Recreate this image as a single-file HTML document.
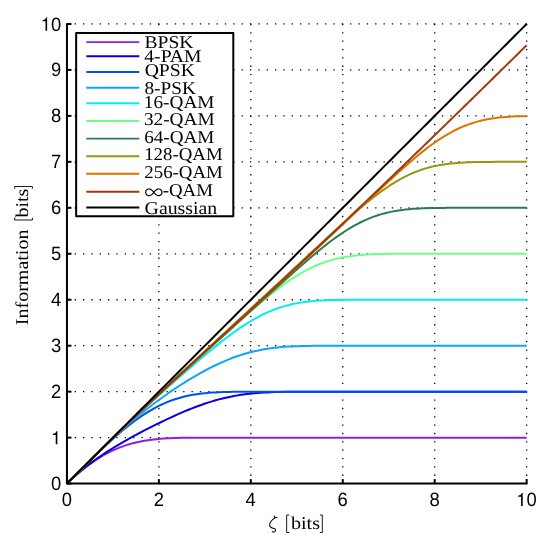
<!DOCTYPE html>
<html><head><meta charset="utf-8"><title>Information vs zeta</title>
<style>html,body{margin:0;padding:0;background:#fff;}svg{display:block;will-change:transform;}</style>
</head><body>
<svg width="545" height="543" viewBox="0 0 545 543">
<rect x="0" y="0" width="545" height="543" fill="#fff"/>
<g stroke="#000" stroke-width="1.3" stroke-dasharray="1.3 7.047" fill="none"><line x1="158.89" y1="484.25" x2="158.89" y2="23.30"/><line x1="250.83" y1="484.25" x2="250.83" y2="23.30"/><line x1="342.77" y1="484.25" x2="342.77" y2="23.30"/><line x1="434.71" y1="484.25" x2="434.71" y2="23.30"/><line x1="526.65" y1="484.25" x2="526.65" y2="23.30"/><line x1="66.30" y1="437.63" x2="177.54" y2="437.63"/><line x1="66.30" y1="391.67" x2="225.93" y2="391.67"/><line x1="66.30" y1="345.71" x2="301.98" y2="345.71"/><line x1="66.30" y1="299.74" x2="333.08" y2="299.74"/><line x1="66.30" y1="253.78" x2="378.02" y2="253.78"/><line x1="66.30" y1="207.81" x2="426.41" y2="207.81"/><line x1="66.30" y1="161.85" x2="471.35" y2="161.85"/><line x1="66.30" y1="115.88" x2="519.74" y2="115.88"/><line x1="66.30" y1="69.91" x2="527.30" y2="69.91"/><line x1="66.30" y1="23.95" x2="527.30" y2="23.95"/></g>
<polyline points="66.95,483.60 66.97,483.58 68.50,482.07 70.02,480.60 71.55,479.15 73.85,477.04 77.30,473.98 80.76,471.06 84.22,468.28 87.67,465.64 91.13,463.13 94.58,460.77 98.04,458.53 101.50,456.43 104.95,454.47 108.41,452.63 111.87,450.93 115.32,449.36 118.78,447.91 122.24,446.59 125.69,445.39 129.15,444.31 132.61,443.34 136.06,442.47 139.52,441.70 142.98,441.03 146.43,440.44 149.89,439.94 153.35,439.50 156.80,439.14 160.26,438.83 163.72,438.57 167.17,438.36 170.63,438.20 174.08,438.06 177.54,437.95 181.00,437.87 184.45,437.80 187.91,437.76 191.37,437.72 194.82,437.69 198.28,437.67 201.74,437.66 205.19,437.65 208.65,437.65 212.11,437.64 215.56,437.64 219.02,437.64 222.48,437.64 225.93,437.64 229.39,437.64 232.85,437.64 236.30,437.64 239.76,437.64 243.22,437.64 246.67,437.64 250.13,437.64 253.58,437.64 257.04,437.64 260.50,437.64 263.95,437.64 267.41,437.64 270.87,437.64 274.32,437.64 277.78,437.64 281.24,437.64 284.69,437.64 288.15,437.64 291.61,437.64 295.06,437.64 298.52,437.64 301.98,437.64 305.43,437.64 308.89,437.63 312.35,437.63 315.80,437.63 319.26,437.63 322.72,437.63 326.17,437.63 329.63,437.63 333.08,437.63 336.54,437.63 340.00,437.63 343.45,437.63 346.91,437.63 350.37,437.63 353.82,437.63 357.28,437.63 360.74,437.63 364.19,437.63 367.65,437.63 371.11,437.63 374.56,437.63 378.02,437.63 381.48,437.63 384.93,437.63 388.39,437.63 391.85,437.63 395.30,437.63 398.76,437.63 402.22,437.63 405.67,437.63 409.13,437.63 412.58,437.63 416.04,437.63 419.50,437.63 422.95,437.63 426.41,437.63 429.87,437.63 433.32,437.63 436.78,437.63 440.24,437.63 443.69,437.63 447.15,437.63 450.61,437.63 454.06,437.63 457.52,437.63 460.98,437.63 464.43,437.63 467.89,437.63 471.35,437.63 474.80,437.63 478.26,437.63 481.72,437.63 485.17,437.63 488.63,437.63 492.08,437.63 495.54,437.63 499.00,437.63 502.45,437.63 505.91,437.63 509.37,437.63 512.82,437.63 516.28,437.63 519.74,437.63 523.19,437.63 526.65,437.63" fill="none" stroke="#8a1fe6" stroke-width="2.0" stroke-linejoin="round"/>
<polyline points="66.95,483.60 66.97,483.58 68.50,482.07 70.02,480.60 71.55,479.15 73.85,477.03 77.30,473.96 80.76,471.02 84.22,468.19 87.67,465.47 91.13,462.85 94.58,460.32 98.04,457.87 101.50,455.50 104.95,453.20 108.41,450.96 111.87,448.79 115.32,446.66 118.78,444.59 122.24,442.57 125.69,440.58 129.15,438.63 132.61,436.72 136.06,434.85 139.52,433.00 142.98,431.18 146.43,429.39 149.89,427.62 153.35,425.88 156.80,424.17 160.26,422.48 163.72,420.81 167.17,419.17 170.63,417.56 174.08,415.98 177.54,414.43 181.00,412.92 184.45,411.44 187.91,410.00 191.37,408.61 194.82,407.26 198.28,405.97 201.74,404.72 205.19,403.54 208.65,402.41 212.11,401.34 215.56,400.33 219.02,399.39 222.48,398.51 225.93,397.69 229.39,396.94 232.85,396.25 236.30,395.63 239.76,395.06 243.22,394.56 246.67,394.11 250.13,393.71 253.58,393.36 257.04,393.06 260.50,392.80 263.95,392.58 267.41,392.40 270.87,392.24 274.32,392.12 277.78,392.01 281.24,391.93 284.69,391.86 288.15,391.81 291.61,391.77 295.06,391.74 298.52,391.72 301.98,391.71 305.43,391.69 308.89,391.69 312.35,391.68 315.80,391.68 319.26,391.67 322.72,391.67 326.17,391.67 329.63,391.67 333.08,391.67 336.54,391.67 340.00,391.67 343.45,391.67 346.91,391.67 350.37,391.67 353.82,391.67 357.28,391.67 360.74,391.67 364.19,391.67 367.65,391.67 371.11,391.67 374.56,391.67 378.02,391.67 381.48,391.67 384.93,391.67 388.39,391.67 391.85,391.67 395.30,391.67 398.76,391.67 402.22,391.67 405.67,391.67 409.13,391.67 412.58,391.67 416.04,391.67 419.50,391.67 422.95,391.67 426.41,391.67 429.87,391.67 433.32,391.67 436.78,391.67 440.24,391.67 443.69,391.67 447.15,391.67 450.61,391.67 454.06,391.67 457.52,391.67 460.98,391.67 464.43,391.67 467.89,391.67 471.35,391.67 474.80,391.67 478.26,391.67 481.72,391.67 485.17,391.67 488.63,391.67 492.08,391.67 495.54,391.67 499.00,391.67 502.45,391.67 505.91,391.67 509.37,391.67 512.82,391.67 516.28,391.67 519.74,391.67 523.19,391.67 526.65,391.67" fill="none" stroke="#0a00e6" stroke-width="2.0" stroke-linejoin="round"/>
<polyline points="66.95,483.60 66.97,483.58 68.50,482.05 70.02,480.53 71.55,479.00 73.85,476.71 77.30,473.25 80.76,469.81 84.22,466.37 87.67,462.95 91.13,459.55 94.58,456.17 98.04,452.83 101.50,449.52 104.95,446.25 108.41,443.04 111.87,439.88 115.32,436.78 118.78,433.76 122.24,430.81 125.69,427.95 129.15,425.18 132.61,422.51 136.06,419.94 139.52,417.48 142.98,415.13 146.43,412.90 149.89,410.79 153.35,408.81 156.80,406.95 160.26,405.22 163.72,403.61 167.17,402.13 170.63,400.78 174.08,399.55 177.54,398.44 181.00,397.44 184.45,396.55 187.91,395.76 191.37,395.07 194.82,394.47 198.28,393.96 201.74,393.52 205.19,393.15 208.65,392.84 212.11,392.58 215.56,392.38 219.02,392.21 222.48,392.07 225.93,391.97 229.39,391.89 232.85,391.83 236.30,391.78 239.76,391.75 243.22,391.72 246.67,391.71 250.13,391.69 253.58,391.68 257.04,391.68 260.50,391.68 263.95,391.67 267.41,391.67 270.87,391.67 274.32,391.67 277.78,391.67 281.24,391.67 284.69,391.67 288.15,391.67 291.61,391.67 295.06,391.67 298.52,391.67 301.98,391.67 305.43,391.67 308.89,391.67 312.35,391.67 315.80,391.67 319.26,391.67 322.72,391.67 326.17,391.67 329.63,391.67 333.08,391.67 336.54,391.67 340.00,391.67 343.45,391.67 346.91,391.67 350.37,391.67 353.82,391.67 357.28,391.67 360.74,391.67 364.19,391.67 367.65,391.67 371.11,391.67 374.56,391.67 378.02,391.67 381.48,391.67 384.93,391.67 388.39,391.67 391.85,391.67 395.30,391.67 398.76,391.67 402.22,391.67 405.67,391.67 409.13,391.67 412.58,391.67 416.04,391.67 419.50,391.67 422.95,391.67 426.41,391.67 429.87,391.67 433.32,391.67 436.78,391.67 440.24,391.67 443.69,391.67 447.15,391.67 450.61,391.67 454.06,391.67 457.52,391.67 460.98,391.67 464.43,391.67 467.89,391.67 471.35,391.67 474.80,391.67 478.26,391.67 481.72,391.67 485.17,391.67 488.63,391.67 492.08,391.67 495.54,391.67 499.00,391.67 502.45,391.67 505.91,391.67 509.37,391.67 512.82,391.67 516.28,391.67 519.74,391.67 523.19,391.67 526.65,391.67" fill="none" stroke="#0050f0" stroke-width="2.0" stroke-linejoin="round"/>
<polyline points="66.95,483.60 66.97,483.58 68.50,482.05 70.02,480.53 71.55,479.00 73.85,476.71 77.30,473.25 80.76,469.80 84.22,466.36 87.67,462.93 91.13,459.51 94.58,456.11 98.04,452.73 101.50,449.38 104.95,446.05 108.41,442.76 111.87,439.50 115.32,436.28 118.78,433.10 122.24,429.96 125.69,426.88 129.15,423.84 132.61,420.85 136.06,417.92 139.52,415.04 142.98,412.22 146.43,409.45 149.89,406.74 153.35,404.08 156.80,401.48 160.26,398.93 163.72,396.44 167.17,394.00 170.63,391.61 174.08,389.27 177.54,386.98 181.00,384.74 184.45,382.55 187.91,380.41 191.37,378.33 194.82,376.29 198.28,374.30 201.74,372.37 205.19,370.50 208.65,368.68 212.11,366.92 215.56,365.23 219.02,363.60 222.48,362.04 225.93,360.55 229.39,359.14 232.85,357.80 236.30,356.54 239.76,355.36 243.22,354.26 246.67,353.24 250.13,352.30 253.58,351.44 257.04,350.66 260.50,349.95 263.95,349.32 267.41,348.76 270.87,348.26 274.32,347.82 277.78,347.45 281.24,347.12 284.69,346.85 288.15,346.61 291.61,346.42 295.06,346.26 298.52,346.13 301.98,346.03 305.43,345.95 308.89,345.88 312.35,345.83 315.80,345.80 319.26,345.77 322.72,345.75 326.17,345.74 329.63,345.73 333.08,345.72 336.54,345.71 340.00,345.71 343.45,345.71 346.91,345.71 350.37,345.71 353.82,345.71 357.28,345.71 360.74,345.71 364.19,345.71 367.65,345.71 371.11,345.71 374.56,345.71 378.02,345.71 381.48,345.71 384.93,345.71 388.39,345.71 391.85,345.71 395.30,345.71 398.76,345.71 402.22,345.71 405.67,345.71 409.13,345.71 412.58,345.71 416.04,345.71 419.50,345.71 422.95,345.71 426.41,345.71 429.87,345.71 433.32,345.71 436.78,345.71 440.24,345.71 443.69,345.71 447.15,345.71 450.61,345.71 454.06,345.71 457.52,345.71 460.98,345.71 464.43,345.71 467.89,345.71 471.35,345.71 474.80,345.71 478.26,345.71 481.72,345.71 485.17,345.71 488.63,345.71 492.08,345.71 495.54,345.71 499.00,345.71 502.45,345.71 505.91,345.71 509.37,345.71 512.82,345.71 516.28,345.71 519.74,345.71 523.19,345.71 526.65,345.71" fill="none" stroke="#0ca4ff" stroke-width="2.0" stroke-linejoin="round"/>
<polyline points="66.95,483.60 66.97,483.58 68.50,482.05 70.02,480.53 71.55,479.00 73.85,476.71 77.30,473.25 80.76,469.80 84.22,466.35 87.67,462.91 91.13,459.48 94.58,456.05 98.04,452.64 101.50,449.24 104.95,445.85 108.41,442.48 111.87,439.12 115.32,435.79 118.78,432.47 122.24,429.17 125.69,425.88 129.15,422.62 132.61,419.37 136.06,416.15 139.52,412.94 142.98,409.75 146.43,406.58 149.89,403.42 153.35,400.28 156.80,397.15 160.26,394.04 163.72,390.95 167.17,387.86 170.63,384.79 174.08,381.74 177.54,378.70 181.00,375.67 184.45,372.65 187.91,369.65 191.37,366.67 194.82,363.70 198.28,360.75 201.74,357.82 205.19,354.91 208.65,352.03 212.11,349.19 215.56,346.37 219.02,343.60 222.48,340.88 225.93,338.21 229.39,335.59 232.85,333.04 236.30,330.57 239.76,328.16 243.22,325.85 246.67,323.62 250.13,321.49 253.58,319.46 257.04,317.53 260.50,315.71 263.95,314.00 267.41,312.40 270.87,310.92 274.32,309.54 277.78,308.29 281.24,307.14 284.69,306.10 288.15,305.17 291.61,304.33 295.06,303.59 298.52,302.95 301.98,302.38 305.43,301.90 308.89,301.49 312.35,301.14 315.80,300.84 319.26,300.60 322.72,300.41 326.17,300.25 329.63,300.12 333.08,300.02 336.54,299.95 340.00,299.89 343.45,299.84 346.91,299.81 350.37,299.79 353.82,299.77 357.28,299.76 360.74,299.75 364.19,299.75 367.65,299.75 371.11,299.74 374.56,299.74 378.02,299.74 381.48,299.74 384.93,299.74 388.39,299.74 391.85,299.74 395.30,299.74 398.76,299.74 402.22,299.74 405.67,299.74 409.13,299.74 412.58,299.74 416.04,299.74 419.50,299.74 422.95,299.74 426.41,299.74 429.87,299.74 433.32,299.74 436.78,299.74 440.24,299.74 443.69,299.74 447.15,299.74 450.61,299.74 454.06,299.74 457.52,299.74 460.98,299.74 464.43,299.74 467.89,299.74 471.35,299.74 474.80,299.74 478.26,299.74 481.72,299.74 485.17,299.74 488.63,299.74 492.08,299.74 495.54,299.74 499.00,299.74 502.45,299.74 505.91,299.74 509.37,299.74 512.82,299.74 516.28,299.74 519.74,299.74 523.19,299.74 526.65,299.74" fill="none" stroke="#00f0f0" stroke-width="2.0" stroke-linejoin="round"/>
<polyline points="66.95,483.60 66.97,483.58 68.50,482.05 70.02,480.53 71.55,479.00 73.85,476.71 77.30,473.25 80.76,469.80 84.22,466.35 87.67,462.90 91.13,459.47 94.58,456.03 98.04,452.61 101.50,449.20 104.95,445.79 108.41,442.40 111.87,439.02 115.32,435.65 118.78,432.29 122.24,428.95 125.69,425.62 129.15,422.30 132.61,419.00 136.06,415.70 139.52,412.42 142.98,409.15 146.43,405.90 149.89,402.65 153.35,399.41 156.80,396.18 160.26,392.97 163.72,389.76 167.17,386.55 170.63,383.36 174.08,380.17 177.54,376.99 181.00,373.81 184.45,370.65 187.91,367.48 191.37,364.32 194.82,361.17 198.28,358.02 201.74,354.88 205.19,351.74 208.65,348.60 212.11,345.48 215.56,342.35 219.02,339.23 222.48,336.12 225.93,333.01 229.39,329.92 232.85,326.83 236.30,323.75 239.76,320.68 243.22,317.63 246.67,314.60 250.13,311.59 253.58,308.60 257.04,305.64 260.50,302.72 263.95,299.84 267.41,297.01 270.87,294.23 274.32,291.51 277.78,288.85 281.24,286.27 284.69,283.76 288.15,281.34 291.61,279.01 295.06,276.78 298.52,274.66 301.98,272.64 305.43,270.73 308.89,268.94 312.35,267.27 315.80,265.71 319.26,264.27 322.72,262.94 326.17,261.72 329.63,260.61 333.08,259.61 336.54,258.72 340.00,257.93 343.45,257.25 346.91,256.65 350.37,256.14 353.82,255.70 357.28,255.32 360.74,255.00 364.19,254.73 367.65,254.51 371.11,254.33 374.56,254.20 378.02,254.09 381.48,254.01 384.93,253.95 388.39,253.90 391.85,253.86 395.30,253.83 398.76,253.81 402.22,253.80 405.67,253.79 409.13,253.79 412.58,253.78 416.04,253.78 419.50,253.78 422.95,253.78 426.41,253.78 429.87,253.78 433.32,253.78 436.78,253.78 440.24,253.78 443.69,253.78 447.15,253.78 450.61,253.78 454.06,253.78 457.52,253.78 460.98,253.78 464.43,253.78 467.89,253.78 471.35,253.78 474.80,253.78 478.26,253.78 481.72,253.78 485.17,253.78 488.63,253.78 492.08,253.78 495.54,253.78 499.00,253.78 502.45,253.78 505.91,253.78 509.37,253.78 512.82,253.78 516.28,253.78 519.74,253.78 523.19,253.78 526.65,253.78" fill="none" stroke="#6eff87" stroke-width="2.0" stroke-linejoin="round"/>
<polyline points="66.95,483.60 66.97,483.58 68.50,482.05 70.02,480.53 71.55,479.00 73.85,476.71 77.30,473.25 80.76,469.80 84.22,466.35 87.67,462.91 91.13,459.47 94.58,456.04 98.04,452.62 101.50,449.20 104.95,445.80 108.41,442.41 111.87,439.04 115.32,435.68 118.78,432.33 122.24,428.99 125.69,425.67 129.15,422.37 132.61,419.07 136.06,415.80 139.52,412.53 142.98,409.28 146.43,406.04 149.89,402.81 153.35,399.59 156.80,396.38 160.26,393.18 163.72,389.99 167.17,386.81 170.63,383.63 174.08,380.47 177.54,377.30 181.00,374.15 184.45,371.00 187.91,367.85 191.37,364.71 194.82,361.57 198.28,358.43 201.74,355.30 205.19,352.16 208.65,349.03 212.11,345.91 215.56,342.78 219.02,339.65 222.48,336.53 225.93,333.40 229.39,330.28 232.85,327.15 236.30,324.03 239.76,320.91 243.22,317.78 246.67,314.66 250.13,311.54 253.58,308.41 257.04,305.29 260.50,302.17 263.95,299.04 267.41,295.92 270.87,292.80 274.32,289.68 277.78,286.57 281.24,283.45 284.69,280.35 288.15,277.25 291.61,274.16 295.06,271.09 298.52,268.03 301.98,264.99 305.43,261.98 308.89,259.00 312.35,256.05 315.80,253.14 319.26,250.29 322.72,247.49 326.17,244.75 329.63,242.08 333.08,239.49 336.54,236.98 340.00,234.56 343.45,232.24 346.91,230.02 350.37,227.91 353.82,225.91 357.28,224.02 360.74,222.25 364.19,220.60 367.65,219.08 371.11,217.67 374.56,216.38 378.02,215.21 381.48,214.15 384.93,213.20 388.39,212.36 391.85,211.61 395.30,210.96 398.76,210.40 402.22,209.91 405.67,209.50 409.13,209.16 412.58,208.87 416.04,208.63 419.50,208.44 422.95,208.29 426.41,208.17 429.87,208.07 433.32,208.00 436.78,207.95 440.24,207.90 443.69,207.88 447.15,207.85 450.61,207.84 454.06,207.83 457.52,207.82 460.98,207.82 464.43,207.81 467.89,207.81 471.35,207.81 474.80,207.81 478.26,207.81 481.72,207.81 485.17,207.81 488.63,207.81 492.08,207.81 495.54,207.81 499.00,207.81 502.45,207.81 505.91,207.81 509.37,207.81 512.82,207.81 516.28,207.81 519.74,207.81 523.19,207.81 526.65,207.81" fill="none" stroke="#2a7a52" stroke-width="2.0" stroke-linejoin="round"/>
<polyline points="66.95,483.60 66.97,483.58 68.50,482.05 70.02,480.53 71.55,479.00 73.85,476.71 77.30,473.25 80.76,469.80 84.22,466.35 87.67,462.90 91.13,459.46 94.58,456.03 98.04,452.60 101.50,449.18 104.95,445.77 108.41,442.37 111.87,438.98 115.32,435.60 118.78,432.24 122.24,428.88 125.69,425.54 129.15,422.20 132.61,418.88 136.06,415.57 139.52,412.27 142.98,408.97 146.43,405.69 149.89,402.42 153.35,399.15 156.80,395.89 160.26,392.64 163.72,389.40 167.17,386.16 170.63,382.93 174.08,379.70 177.54,376.48 181.00,373.26 184.45,370.04 187.91,366.83 191.37,363.62 194.82,360.41 198.28,357.21 201.74,354.00 205.19,350.80 208.65,347.60 212.11,344.40 215.56,341.20 219.02,338.00 222.48,334.81 225.93,331.61 229.39,328.41 232.85,325.21 236.30,322.02 239.76,318.82 243.22,315.62 246.67,312.42 250.13,309.22 253.58,306.03 257.04,302.83 260.50,299.63 263.95,296.43 267.41,293.23 270.87,290.02 274.32,286.82 277.78,283.62 281.24,280.42 284.69,277.21 288.15,274.01 291.61,270.81 295.06,267.60 298.52,264.40 301.98,261.20 305.43,257.99 308.89,254.79 312.35,251.59 315.80,248.39 319.26,245.19 322.72,242.00 326.17,238.81 329.63,235.62 333.08,232.45 336.54,229.28 340.00,226.13 343.45,223.00 346.91,219.89 350.37,216.81 353.82,213.76 357.28,210.74 360.74,207.78 364.19,204.86 367.65,202.00 371.11,199.21 374.56,196.48 378.02,193.84 381.48,191.28 384.93,188.82 388.39,186.46 391.85,184.20 395.30,182.06 398.76,180.03 402.22,178.13 405.67,176.34 409.13,174.68 412.58,173.14 416.04,171.72 419.50,170.41 422.95,169.22 426.41,168.15 429.87,167.19 433.32,166.35 436.78,165.61 440.24,164.97 443.69,164.42 447.15,163.94 450.61,163.53 454.06,163.17 457.52,162.88 460.98,162.64 464.43,162.45 467.89,162.31 471.35,162.19 474.80,162.11 478.26,162.03 481.72,161.98 485.17,161.93 488.63,161.91 492.08,161.89 495.54,161.87 499.00,161.86 502.45,161.86 505.91,161.85 509.37,161.85 512.82,161.85 516.28,161.85 519.74,161.85 523.19,161.85 526.65,161.85" fill="none" stroke="#96960f" stroke-width="2.0" stroke-linejoin="round"/>
<polyline points="66.95,483.60 66.97,483.58 68.50,482.05 70.02,480.53 71.55,479.00 73.85,476.71 77.30,473.25 80.76,469.80 84.22,466.35 87.67,462.90 91.13,459.47 94.58,456.03 98.04,452.61 101.50,449.20 104.95,445.79 108.41,442.40 111.87,439.02 115.32,435.65 118.78,432.30 122.24,428.96 125.69,425.63 129.15,422.31 132.61,419.01 136.06,415.72 139.52,412.44 142.98,409.18 146.43,405.92 149.89,402.68 153.35,399.45 156.80,396.22 160.26,393.01 163.72,389.80 167.17,386.60 170.63,383.40 174.08,380.21 177.54,377.03 181.00,373.85 184.45,370.67 187.91,367.50 191.37,364.33 194.82,361.16 198.28,358.00 201.74,354.84 205.19,351.67 208.65,348.51 212.11,345.35 215.56,342.19 219.02,339.03 222.48,335.87 225.93,332.70 229.39,329.54 232.85,326.37 236.30,323.21 239.76,320.04 243.22,316.87 246.67,313.70 250.13,310.52 253.58,307.34 257.04,304.17 260.50,300.98 263.95,297.80 267.41,294.61 270.87,291.42 274.32,288.23 277.78,285.04 281.24,281.84 284.69,278.64 288.15,275.44 291.61,272.23 295.06,269.02 298.52,265.81 301.98,262.59 305.43,259.38 308.89,256.15 312.35,252.93 315.80,249.71 319.26,246.48 322.72,243.24 326.17,240.01 329.63,236.77 333.08,233.54 336.54,230.29 340.00,227.05 343.45,223.80 346.91,220.56 350.37,217.31 353.82,214.06 357.28,210.80 360.74,207.55 364.19,204.30 367.65,201.05 371.11,197.80 374.56,194.55 378.02,191.31 381.48,188.07 384.93,184.85 388.39,181.64 391.85,178.44 395.30,175.27 398.76,172.12 402.22,169.01 405.67,165.93 409.13,162.90 412.58,159.92 416.04,156.99 419.50,154.14 422.95,151.35 426.41,148.65 429.87,146.04 433.32,143.52 436.78,141.11 440.24,138.80 443.69,136.60 447.15,134.52 450.61,132.57 454.06,130.73 457.52,129.02 460.98,127.44 464.43,125.99 467.89,124.65 471.35,123.45 474.80,122.35 478.26,121.38 481.72,120.51 485.17,119.75 488.63,119.08 492.08,118.50 495.54,118.01 499.00,117.59 502.45,117.24 505.91,116.95 509.37,116.71 512.82,116.51 516.28,116.36 519.74,116.24 523.19,116.14 526.65,116.07" fill="none" stroke="#dc7400" stroke-width="2.0" stroke-linejoin="round"/>
<polyline points="66.95,483.60 66.97,483.58 68.50,482.05 70.02,480.53 71.55,479.00 73.85,476.71 77.30,473.25 80.76,469.80 84.22,466.35 87.67,462.90 91.13,459.46 94.58,456.03 98.04,452.61 101.50,449.19 104.95,445.79 108.41,442.40 111.87,439.01 115.32,435.65 118.78,432.29 122.24,428.94 125.69,425.61 129.15,422.30 132.61,418.99 136.06,415.70 139.52,412.42 142.98,409.15 146.43,405.89 149.89,402.64 153.35,399.40 156.80,396.17 160.26,392.95 163.72,389.74 167.17,386.53 170.63,383.33 174.08,380.13 177.54,376.94 181.00,373.75 184.45,370.57 187.91,367.39 191.37,364.21 194.82,361.04 198.28,357.86 201.74,354.69 205.19,351.52 208.65,348.35 212.11,345.18 215.56,342.01 219.02,338.83 222.48,335.66 225.93,332.49 229.39,329.31 232.85,326.13 236.30,322.96 239.76,319.77 243.22,316.59 246.67,313.41 250.13,310.22 253.58,307.03 257.04,303.83 260.50,300.64 263.95,297.44 267.41,294.23 270.87,291.03 274.32,287.82 277.78,284.60 281.24,281.39 284.69,278.17 288.15,274.95 291.61,271.72 295.06,268.49 298.52,265.26 301.98,262.02 305.43,258.78 308.89,255.53 312.35,252.29 315.80,249.04 319.26,245.78 322.72,242.52 326.17,239.26 329.63,235.99 333.08,232.73 336.54,229.45 340.00,226.18 343.45,222.90 346.91,219.62 350.37,216.33 353.82,213.04 357.28,209.75 360.74,206.45 364.19,203.15 367.65,199.85 371.11,196.54 374.56,193.24 378.02,189.92 381.48,186.61 384.93,183.29 388.39,179.97 391.85,176.65 395.30,173.32 398.76,169.99 402.22,166.66 405.67,163.33 409.13,159.99 412.58,156.65 416.04,153.31 419.50,149.96 422.95,146.62 426.41,143.27 429.87,139.92 433.32,136.56 436.78,133.20 440.24,129.85 443.69,126.48 447.15,123.12 450.61,119.76 454.06,116.39 457.52,113.02 460.98,109.65 464.43,106.27 467.89,102.90 471.35,99.52 474.80,96.14 478.26,92.76 481.72,89.38 485.17,85.99 488.63,82.61 492.08,79.22 495.54,75.83 499.00,72.44 502.45,69.05 505.91,65.65 509.37,62.26 512.82,58.86 516.28,55.46 519.74,52.06 523.19,48.66 526.65,45.26" fill="none" stroke="#9c3a0e" stroke-width="2.0" stroke-linejoin="round"/>
<polyline points="66.95,483.60 66.97,483.58 68.50,482.05 70.02,480.53 71.55,479.00 73.85,476.71 77.30,473.25 80.76,469.79 84.22,466.34 87.67,462.88 91.13,459.42 94.58,455.97 98.04,452.51 101.50,449.06 104.95,445.60 108.41,442.14 111.87,438.69 115.32,435.23 118.78,431.78 122.24,428.32 125.69,424.86 129.15,421.41 132.61,417.95 136.06,414.49 139.52,411.04 142.98,407.58 146.43,404.13 149.89,400.67 153.35,397.21 156.80,393.76 160.26,390.30 163.72,386.85 167.17,383.39 170.63,379.93 174.08,376.48 177.54,373.02 181.00,369.56 184.45,366.11 187.91,362.65 191.37,359.20 194.82,355.74 198.28,352.28 201.74,348.83 205.19,345.37 208.65,341.92 212.11,338.46 215.56,335.00 219.02,331.55 222.48,328.09 225.93,324.63 229.39,321.18 232.85,317.72 236.30,314.27 239.76,310.81 243.22,307.35 246.67,303.90 250.13,300.44 253.58,296.99 257.04,293.53 260.50,290.07 263.95,286.62 267.41,283.16 270.87,279.70 274.32,276.25 277.78,272.79 281.24,269.34 284.69,265.88 288.15,262.42 291.61,258.97 295.06,255.51 298.52,252.06 301.98,248.60 305.43,245.14 308.89,241.69 312.35,238.23 315.80,234.77 319.26,231.32 322.72,227.86 326.17,224.41 329.63,220.95 333.08,217.49 336.54,214.04 340.00,210.58 343.45,207.13 346.91,203.67 350.37,200.21 353.82,196.76 357.28,193.30 360.74,189.85 364.19,186.39 367.65,182.93 371.11,179.48 374.56,176.02 378.02,172.56 381.48,169.11 384.93,165.65 388.39,162.20 391.85,158.74 395.30,155.28 398.76,151.83 402.22,148.37 405.67,144.92 409.13,141.46 412.58,138.00 416.04,134.55 419.50,131.09 422.95,127.63 426.41,124.18 429.87,120.72 433.32,117.27 436.78,113.81 440.24,110.35 443.69,106.90 447.15,103.44 450.61,99.99 454.06,96.53 457.52,93.07 460.98,89.62 464.43,86.16 467.89,82.70 471.35,79.25 474.80,75.79 478.26,72.34 481.72,68.88 485.17,65.42 488.63,61.97 492.08,58.51 495.54,55.06 499.00,51.60 502.45,48.14 505.91,44.69 509.37,41.23 512.82,37.77 516.28,34.32 519.74,30.86 523.19,27.41 526.65,23.95" fill="none" stroke="#000000" stroke-width="2.0" stroke-linejoin="round"/>
<g stroke="#000" stroke-width="2.0" fill="none" stroke-linejoin="round" stroke-linecap="butt"><polyline points="71.45,23.95 66.95,23.95 66.95,483.60 526.65,483.60 526.65,479.10"/><line x1="66.95" y1="483.60" x2="66.95" y2="479.10"/><line x1="158.89" y1="483.60" x2="158.89" y2="479.10"/><line x1="250.83" y1="483.60" x2="250.83" y2="479.10"/><line x1="342.77" y1="483.60" x2="342.77" y2="479.10"/><line x1="434.71" y1="483.60" x2="434.71" y2="479.10"/><line x1="66.95" y1="483.60" x2="71.45" y2="483.60"/><line x1="66.95" y1="437.63" x2="71.45" y2="437.63"/><line x1="66.95" y1="391.67" x2="71.45" y2="391.67"/><line x1="66.95" y1="345.71" x2="71.45" y2="345.71"/><line x1="66.95" y1="299.74" x2="71.45" y2="299.74"/><line x1="66.95" y1="253.78" x2="71.45" y2="253.78"/><line x1="66.95" y1="207.81" x2="71.45" y2="207.81"/><line x1="66.95" y1="161.85" x2="71.45" y2="161.85"/><line x1="66.95" y1="115.88" x2="71.45" y2="115.88"/><line x1="66.95" y1="69.91" x2="71.45" y2="69.91"/></g>
<g font-family="Liberation Sans, sans-serif" font-size="18.4" fill="#000" text-rendering="geometricPrecision"><text transform="translate(61.73,505.95) scale(1,1.05)">0</text><text transform="translate(153.67,505.95) scale(1,1.05)">2</text><text transform="translate(245.61,505.95) scale(1,1.05)">4</text><text transform="translate(337.55,505.95) scale(1,1.05)">6</text><text transform="translate(429.49,505.95) scale(1,1.05)">8</text><path transform="translate(516.32,506.10) scale(0.01840)" d="M259 0L259 -505L102 -505L102 -568C200 -578 262 -610 289 -709L347 -709L347 0Z"/><text transform="translate(526.55,505.95) scale(1,1.05)">0</text><text transform="translate(50.97,490.15) scale(1,1.05)">0</text><path transform="translate(50.97,444.33) scale(0.01840)" d="M259 0L259 -505L102 -505L102 -568C200 -578 262 -610 289 -709L347 -709L347 0Z"/><text transform="translate(50.97,398.22) scale(1,1.05)">2</text><text transform="translate(50.97,352.26) scale(1,1.05)">3</text><text transform="translate(50.97,306.29) scale(1,1.05)">4</text><text transform="translate(50.97,260.33) scale(1,1.05)">5</text><text transform="translate(50.97,214.36) scale(1,1.05)">6</text><text transform="translate(50.97,168.40) scale(1,1.05)">7</text><text transform="translate(50.97,122.43) scale(1,1.05)">8</text><text transform="translate(50.97,76.46) scale(1,1.05)">9</text><path transform="translate(40.74,30.65) scale(0.01840)" d="M259 0L259 -505L102 -505L102 -568C200 -578 262 -610 289 -709L347 -709L347 0Z"/><text transform="translate(50.97,30.50) scale(1,1.05)">0</text></g>
<path d="M274.2,516.0 L274.7,517.2 L277.0,517.45 M275.4,517.4 C272.6,518.7 269.7,522.4 269.6,525.0 C269.5,527.3 271.6,528.0 274.2,528.45 C275.7,528.8 275.8,530.4 275.2,531.2 C274.6,532.0 273.4,532.5 272.3,531.6" fill="none" stroke="#000" stroke-width="1.05" stroke-linecap="round" stroke-linejoin="round"/>
<path d="M289.3,515.0 H286.65 V532.5 H289.3 M319.9,515.0 H322.3 V532.5 H319.9" fill="none" stroke="#000" stroke-width="0.9"/>
<text transform="translate(290.90,528.6) scale(1.1192,1)" font-family="Liberation Serif, serif" font-size="18.0" text-rendering="geometricPrecision">bits</text>
<path d="M14.7,217.7 V220.0 H32.4 V217.7 M14.7,188.7 V186.5 H32.4 V188.7" fill="none" stroke="#000" stroke-width="0.9"/>
<text transform="translate(28.1,325.20) rotate(-90) scale(1.1125,1)" font-family="Liberation Serif, serif" font-size="18.0" text-rendering="geometricPrecision">Information</text>
<text transform="translate(28.1,217.50) rotate(-90) scale(1.1113,1)" font-family="Liberation Serif, serif" font-size="18.0" text-rendering="geometricPrecision">bits</text>
<rect x="76.15" y="33.05" width="157.15" height="183.15" fill="#fff" stroke="#000" stroke-width="2.0" stroke-linejoin="round"/>
<line x1="86.3" y1="42.1" x2="139.3" y2="42.1" stroke="#8a1fe6" stroke-width="1.95"/>
<text transform="translate(144.53,48.3) scale(1.0870,1)" font-family="Liberation Serif, serif" font-size="18.0" fill="#000" text-rendering="geometricPrecision">BPSK</text>
<line x1="86.3" y1="56.2" x2="139.3" y2="56.2" stroke="#0a00e6" stroke-width="1.95"/>
<text transform="translate(144.26,62.1) scale(1.0915,1)" font-family="Liberation Serif, serif" font-size="18.0" fill="#000" text-rendering="geometricPrecision">4-PAM</text>
<line x1="86.3" y1="71.9" x2="139.3" y2="71.9" stroke="#0050f0" stroke-width="1.95"/>
<text transform="translate(144.66,75.9) scale(1.0929,1)" font-family="Liberation Serif, serif" font-size="18.0" fill="#000" text-rendering="geometricPrecision">QPSK</text>
<line x1="86.3" y1="87.7" x2="139.3" y2="87.7" stroke="#0ca4ff" stroke-width="1.95"/>
<text transform="translate(144.46,93.9) scale(1.0700,1)" font-family="Liberation Serif, serif" font-size="18.0" fill="#000" text-rendering="geometricPrecision">8-PSK</text>
<line x1="86.3" y1="103.2" x2="139.3" y2="103.2" stroke="#00f0f0" stroke-width="1.95"/>
<text transform="translate(143.85,107.8) scale(1.0690,1)" font-family="Liberation Serif, serif" font-size="18.0" fill="#000" text-rendering="geometricPrecision">16-QAM</text>
<line x1="86.3" y1="120.9" x2="139.3" y2="120.9" stroke="#6eff87" stroke-width="1.95"/>
<text transform="translate(143.89,124.9) scale(1.0719,1)" font-family="Liberation Serif, serif" font-size="18.0" fill="#000" text-rendering="geometricPrecision">32-QAM</text>
<line x1="86.3" y1="138.6" x2="139.3" y2="138.6" stroke="#2a7a52" stroke-width="1.95"/>
<text transform="translate(144.20,143.3) scale(1.0635,1)" font-family="Liberation Serif, serif" font-size="18.0" fill="#000" text-rendering="geometricPrecision">64-QAM</text>
<line x1="86.3" y1="156.2" x2="139.3" y2="156.2" stroke="#96960f" stroke-width="1.95"/>
<text transform="translate(144.15,160.4) scale(1.0472,1)" font-family="Liberation Serif, serif" font-size="18.0" fill="#000" text-rendering="geometricPrecision">128-QAM</text>
<line x1="86.3" y1="173.8" x2="139.3" y2="173.8" stroke="#dc7400" stroke-width="1.95"/>
<text transform="translate(144.29,178.3) scale(1.0467,1)" font-family="Liberation Serif, serif" font-size="18.0" fill="#000" text-rendering="geometricPrecision">256-QAM</text>
<line x1="86.3" y1="191.7" x2="139.3" y2="191.7" stroke="#9c3a0e" stroke-width="1.95"/>
<text transform="translate(162.71,195.8) scale(1.0457,1)" font-family="Liberation Serif, serif" font-size="18.0" fill="#000" text-rendering="geometricPrecision">-QAM</text>
<line x1="86.3" y1="207.5" x2="139.3" y2="207.5" stroke="#000000" stroke-width="1.95"/>
<text transform="translate(144.57,213.6) scale(1.1012,1)" font-family="Liberation Serif, serif" font-size="18.0" fill="#000" text-rendering="geometricPrecision">Gaussian</text>
<polygon points="161.95,192.30 161.86,193.11 161.59,193.87 161.18,194.52 160.66,195.02 160.07,195.37 159.45,195.57 158.82,195.64 158.22,195.59 157.64,195.45 157.10,195.23 156.60,194.96 156.13,194.64 155.69,194.29 155.28,193.91 154.89,193.52 154.52,193.12 154.16,192.71 153.80,192.30 153.44,191.89 153.08,191.48 152.71,191.08 152.32,190.69 151.91,190.31 151.47,189.96 151.00,189.64 150.50,189.37 149.96,189.15 149.38,189.01 148.78,188.96 148.15,189.03 147.53,189.23 146.94,189.58 146.42,190.08 146.01,190.73 145.74,191.49 145.65,192.30 145.74,193.11 146.01,193.87 146.42,194.52 146.94,195.02 147.53,195.37 148.15,195.57 148.78,195.64 149.38,195.59 149.96,195.45 150.50,195.23 151.00,194.96 151.47,194.64 151.91,194.29 152.32,193.91 152.71,193.52 153.08,193.12 153.44,192.71 153.80,192.30 154.16,191.89 154.52,191.48 154.89,191.08 155.28,190.69 155.69,190.31 156.13,189.96 156.60,189.64 157.10,189.37 157.64,189.15 158.22,189.01 158.82,188.96 159.45,189.03 160.07,189.23 160.66,189.58 161.18,190.08 161.59,190.73 161.86,191.49" fill="none" stroke="#000" stroke-width="1.15" stroke-linejoin="round"/>
</svg>
</body></html>
